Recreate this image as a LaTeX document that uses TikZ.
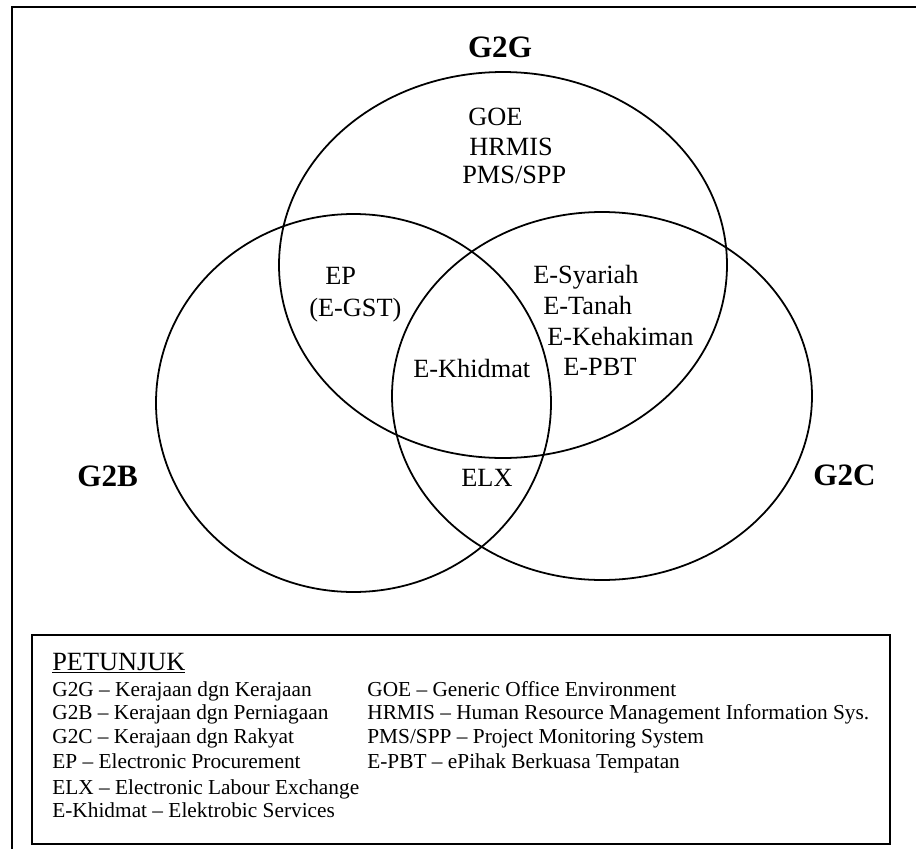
\documentclass[tikz,border=0pt]{standalone}
\usepackage{fontspec}
\setmainfont{Liberation Serif}
\usetikzlibrary{positioning}
\tikzset{
  vennset/.style={line width=1pt},
  setname/.style={inner sep=0pt,font=\fontsize{17.5}{21}\selectfont\bfseries},
  appname/.style={inner sep=0pt,anchor=base west,font=\fontsize{14.8}{17}\selectfont},
  keytext/.style={inner sep=0pt,anchor=base west,font=\fontsize{12}{14}\selectfont},
  keyframe/.style={line width=1.5pt},
  pageframe/.style={line width=1.2pt}
}

\begin{document}
\begin{tikzpicture}[x=0.5625pt,y=-0.5625pt]
  \useasboundingbox (0,0) rectangle (916,849);
  \draw[pageframe] (916,7) -- (12,7) -- (12,849);

  % the three sets
  \draw[vennset] (503,265) ellipse [x radius=224, y radius=193];
  \draw[vennset] (353.5,403) ellipse [x radius=197.5, y radius=189];
  \draw[vennset] (602,396) ellipse [x radius=210, y radius=184];

  \node[setname,anchor=base] (g2g) at (500,57) {G2G};
  \node[setname,anchor=base west] (g2b) at (77,486) {G2B};
  \node[setname,anchor=base west] (g2c) at (813,485) {G2C};

  \node[appname] (goe) at (468,125) {GOE};
  \node[appname] (hrmis) at (469,155) {HRMIS};
  \node[appname] (pms) at (462,183) {PMS/SPP};
  \node[appname] (ep) at (325,284) {EP};
  \node[appname] (egst) at (309,316) {(E-GST)};
  \node[appname] (khidmat) at (413,377) {E-Khidmat};
  \node[appname] (elx) at (461,486) {ELX};
  \node[appname] (syariah) at (533,283) {E-Syariah};
  \node[appname] (tanah) at (543,314) {E-Tanah};
  \node[appname] (kehakiman) at (547,345) {E-Kehakiman};
  \node[appname] (epbt) at (563,375) {E-PBT};

  % legend
  \draw[keyframe] (32,635) rectangle (890,844);
  \node[appname] (petunjuk) at (52,670) {\underline{PETUNJUK}};
  \foreach \y/\txt [count=\i] in {696/G2G – Kerajaan dgn Kerajaan,
      719/G2B – Kerajaan dgn Perniagaan, 743/G2C – Kerajaan dgn Rakyat,
      768/EP – Electronic Procurement, 794/ELX – Electronic Labour Exchange,
      817/E-Khidmat – Elektrobic Services}
    \node[keytext] (keyl\i) at (52,\y) {\txt};
  \foreach \y/\txt [count=\i] in {696/GOE – Generic Office Environment,
      719/HRMIS – Human Resource Management Information Sys.,
      743/{PMS/SPP – Project Monitoring System},
      768/E-PBT – ePihak Berkuasa Tempatan}
    \node[keytext] (keyr\i) at (367,\y) {\txt};
\end{tikzpicture}
\end{document}
